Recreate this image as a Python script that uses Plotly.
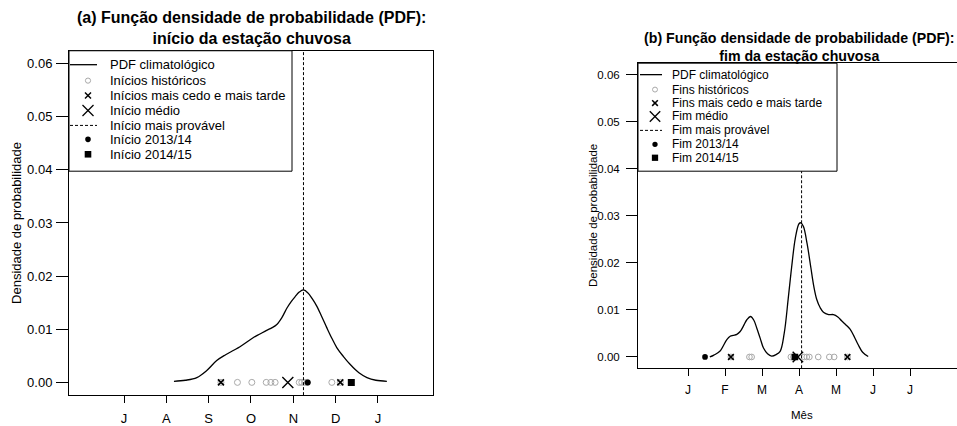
import plotly.graph_objects as go

# ---------------- data (month units: Jul=7 ... Jan=13 for onset; Jan=1 ... Jul=7 for end) -------------
onset_pdf_x = [8.18, 8.45, 8.72, 8.95, 9.19, 9.40, 9.58, 9.74, 10.05, 10.21, 10.37, 10.50, 10.61,
               10.73, 10.85, 10.95, 11.04, 11.14, 11.24, 11.35, 11.45, 11.55, 11.67, 11.79, 11.91,
               12.03, 12.18, 12.34, 12.55, 12.74, 12.95, 13.21]
onset_pdf_y = [0.0002, 0.0004, 0.0009, 0.0022, 0.0041, 0.0052, 0.0060, 0.0067, 0.0084, 0.0091, 0.0098,
               0.0103, 0.0109, 0.0122, 0.0140, 0.0152, 0.0161, 0.0170, 0.0174, 0.0168, 0.0157, 0.0144,
               0.0124, 0.0103, 0.0083, 0.0065, 0.0049, 0.0034, 0.0018, 0.0009, 0.0004, 0.0002]
onset_hist = [9.29, 9.68, 10.02, 10.36, 10.47, 10.57, 11.14, 11.20, 11.27, 11.33, 11.91, 12.11]
onset_extremes = [9.29, 12.11]
onset_mean = 10.87
onset_mode = 11.24
onset_1314 = 11.34
onset_1415 = 12.37

end_pdf_x = [1.59, 1.70, 1.86, 2.05, 2.14, 2.22, 2.32, 2.41, 2.50, 2.59, 2.69, 2.78, 2.86, 2.95, 3.04,
             3.15, 3.26, 3.38, 3.49, 3.60, 3.71, 3.80, 3.90, 4.00, 4.05, 4.12, 4.22, 4.32, 4.40, 4.48,
             4.57, 4.66, 4.80, 4.93, 5.05, 5.15, 5.27, 5.38, 5.50, 5.60, 5.72, 5.87]
end_pdf_y = [0.0000, 0.0004, 0.0012, 0.0037, 0.0044, 0.0046, 0.0048, 0.0054, 0.0066, 0.0079, 0.0086,
             0.0078, 0.0061, 0.0040, 0.0019, 0.0007, 0.0002, 0.0005, 0.0012, 0.0050, 0.0125, 0.0190,
             0.0252, 0.0283, 0.0285, 0.0277, 0.0240, 0.0190, 0.0150, 0.0122, 0.0105, 0.0095, 0.0090,
             0.0090, 0.0085, 0.0077, 0.0068, 0.0059, 0.0042, 0.0026, 0.0010, 0.0001]
end_hist = [2.16, 2.66, 2.72, 3.78, 3.85, 4.14, 4.21, 4.28, 4.52, 4.82, 4.95, 5.31]
end_extremes = [2.16, 5.31]
end_mean = 3.97
end_mode = 4.07
end_1314 = 1.46
end_1415 = 3.89

onset_ticks = [7, 8, 9, 10, 11, 12, 13]
onset_ticktext = ["J", "A", "S", "O", "N", "D", "J"]
end_ticks = [1, 2, 3, 4, 5, 6, 7]
end_ticktext = ["J", "F", "M", "A", "M", "J", "J"]
y_ticks = [0.00, 0.01, 0.02, 0.03, 0.04, 0.05, 0.06]
y_ticktext = ["0.00", "0.01", "0.02", "0.03", "0.04", "0.05", "0.06"]

legend_a = ["PDF climatológico", "Inícios históricos", "Inícios mais cedo e mais tarde", "Início médio",
            "Início mais provável", "Início 2013/14", "Início 2014/15"]
legend_b = ["PDF climatológico", "Fins históricos", "Fins mais cedo e mais tarde", "Fim médio",
            "Fim mais provável", "Fim 2013/14", "Fim 2014/15"]

# ---------------- layout helpers -------------
W, H = 957, 426
FONT = "Liberation Sans, Arial, Helvetica, sans-serif"
GREY = "#a9a9a9"
Y_RANGE = [-0.0024, 0.0624]


def px(x):
    return x / W


def py(y):
    return 1 - y / H


fig = go.Figure()


def add_panel(xa, ya, pdf_x, pdf_y, hist, extremes, mean, mode, v1314, v1415, msc):
    fig.add_trace(go.Scatter(x=pdf_x, y=pdf_y, mode="lines", line=dict(color="black", width=1.3, shape="spline"),
                             xaxis=xa, yaxis=ya, showlegend=False, hoverinfo="skip"))
    fig.add_trace(go.Scatter(x=hist, y=[0] * len(hist), mode="markers",
                             marker=dict(symbol="circle-open", size=6 * msc, color=GREY, line=dict(width=1, color=GREY)),
                             xaxis=xa, yaxis=ya, showlegend=False))
    fig.add_trace(go.Scatter(x=extremes, y=[0] * len(extremes), mode="markers",
                             marker=dict(symbol="x-thin-open", size=6 * msc, color="black", line=dict(width=1.6, color="black")),
                             xaxis=xa, yaxis=ya, showlegend=False))
    fig.add_trace(go.Scatter(x=[mean], y=[0], mode="markers",
                             marker=dict(symbol="x-thin-open", size=11 * msc, color="black", line=dict(width=1.4, color="black")),
                             xaxis=xa, yaxis=ya, showlegend=False))
    fig.add_trace(go.Scatter(x=[mode, mode], y=Y_RANGE, mode="lines",
                             line=dict(color="black", width=1, dash="3px,2px"),
                             xaxis=xa, yaxis=ya, showlegend=False, hoverinfo="skip"))
    fig.add_trace(go.Scatter(x=[v1314], y=[0], mode="markers",
                             marker=dict(symbol="circle", size=6 * msc, color="black"),
                             xaxis=xa, yaxis=ya, showlegend=False))
    fig.add_trace(go.Scatter(x=[v1415], y=[0], mode="markers",
                             marker=dict(symbol="square", size=7 * msc, color="black"),
                             xaxis=xa, yaxis=ya, showlegend=False))


add_panel("x", "y", onset_pdf_x, onset_pdf_y, onset_hist, onset_extremes, onset_mean, onset_mode,
          onset_1314, onset_1415, 1.0)
add_panel("x2", "y2", end_pdf_x, end_pdf_y, end_hist, end_extremes, end_mean, end_mode,
          end_1314, end_1415, 0.95)

shapes = []
annotations = []


def add_legend(left, top, right, bottom, rows, sym_x, line_x0, line_x1, text_x, labels, fsize, s):
    shapes.append(dict(type="rect", xref="paper", yref="paper", x0=px(left), x1=px(right), y0=py(bottom), y1=py(top),
                       line=dict(color="black", width=1), fillcolor="white", layer="above"))
    for i, (lab, ry) in enumerate(zip(labels, rows)):
        xa, ya = px(sym_x), py(ry)
        if i == 0 or i == 4:
            shapes.append(dict(type="line", xref="paper", yref="paper", x0=px(line_x0), x1=px(line_x1), y0=ya, y1=ya,
                               line=dict(color="black", width=1.3 if i == 0 else 1, dash="solid" if i == 0 else "3px,2px"),
                               layer="above"))
        elif i == 1:
            r = 2.6 * s
            shapes.append(dict(type="circle", xref="paper", yref="paper", xsizemode="pixel", ysizemode="pixel",
                               xanchor=xa, yanchor=ya, x0=-r, x1=r, y0=-r, y1=r,
                               line=dict(color=GREY, width=1), layer="above"))
        elif i in (2, 3):
            r = (3.0 if i == 2 else 5.5) * s
            for sgn in (1, -1):
                shapes.append(dict(type="line", xref="paper", yref="paper", xsizemode="pixel", ysizemode="pixel",
                                   xanchor=xa, yanchor=ya, x0=-r, x1=r, y0=-r * sgn, y1=r * sgn,
                                   line=dict(color="black", width=1.5 if i == 2 else 1.3), layer="above"))
        elif i == 5:
            r = 2.8 * s
            shapes.append(dict(type="circle", xref="paper", yref="paper", xsizemode="pixel", ysizemode="pixel",
                               xanchor=xa, yanchor=ya, x0=-r, x1=r, y0=-r, y1=r,
                               line=dict(color="black", width=0), fillcolor="black", layer="above"))
        elif i == 6:
            r = 3.3 * s
            shapes.append(dict(type="rect", xref="paper", yref="paper", xsizemode="pixel", ysizemode="pixel",
                               xanchor=xa, yanchor=ya, x0=-r, x1=r, y0=-r, y1=r,
                               line=dict(color="black", width=0), fillcolor="black", layer="above"))
        annotations.append(dict(text=lab, xref="paper", yref="paper", x=px(text_x), y=ya, xanchor="left",
                                yanchor="middle", showarrow=False, font=dict(size=fsize, color="black", family=FONT)))


add_legend(69, 51, 292, 172, [65, 81, 96, 111, 126, 140, 155], 88, 70, 97, 108, legend_a, 13, 1.0)
add_legend(638, 63.5, 837, 172, [75, 90, 103.5, 117, 131, 145, 158.5], 655, 640, 662, 670, legend_b, 12, 0.95)

# titles and axis labels
annotations.append(dict(text="<b>(a) Função densidade de probabilidade (PDF):<br>início da estação chuvosa</b>",
                        xref="paper", yref="paper", x=px(251), y=py(28.5), xanchor="center", yanchor="middle",
                        showarrow=False, font=dict(size=16, color="black", family=FONT)))
annotations.append(dict(text="<b>(b) Função densidade de probabilidade (PDF):<br>fim da estação chuvosa</b>",
                        xref="paper", yref="paper", x=px(799), y=py(47.5), xanchor="center", yanchor="middle",
                        showarrow=False, font=dict(size=14.2, color="black", family=FONT)))
annotations.append(dict(text="Densidade de probabilidade", xref="paper", yref="paper", x=px(17), y=py(224),
                        xanchor="center", yanchor="middle", textangle=-90, showarrow=False,
                        font=dict(size=13, color="black", family=FONT)))
annotations.append(dict(text="Densidade de probabilidade", xref="paper", yref="paper", x=px(593), y=py(217),
                        xanchor="center", yanchor="middle", textangle=-90, showarrow=False,
                        font=dict(size=11.5, color="black", family=FONT)))
annotations.append(dict(text="Mês", xref="paper", yref="paper", x=px(802), y=py(417),
                        xanchor="center", yanchor="middle", showarrow=False,
                        font=dict(size=11.5, color="black", family=FONT)))

ax_common = dict(showgrid=False, zeroline=False, showline=True, linecolor="black", linewidth=1,
                 ticks="outside", tickcolor="black", tickwidth=1)

xa_range = [7 + (69 - 124) / 42.33, 7 + (433 - 124) / 42.33]
xb_range = [1 + (638 - 688) / 37.0, 1 + (957 - 688) / 37.0]

fig.update_layout(
    width=W, height=H, margin=dict(l=0, r=0, t=0, b=0),
    paper_bgcolor="white", plot_bgcolor="white",
    font=dict(family=FONT, color="black"),
    showlegend=False,
    xaxis=dict(domain=[px(69), px(433)], range=xa_range, tickvals=onset_ticks, ticktext=onset_ticktext,
               ticklen=7, mirror=True, anchor="y", tickfont=dict(size=13), ticklabelstandoff=4, **ax_common),
    yaxis=dict(domain=[py(397), py(51)], range=Y_RANGE, tickvals=y_ticks, ticktext=y_ticktext,
               ticklen=12, mirror=True, anchor="x", tickfont=dict(size=13), ticklabelstandoff=1, **ax_common),
    xaxis2=dict(domain=[px(638), 1.0], range=xb_range, tickvals=end_ticks, ticktext=end_ticktext,
                ticklen=7, mirror=True, anchor="y2", tickfont=dict(size=12), ticklabelstandoff=3, **ax_common),
    yaxis2=dict(domain=[py(370), py(63.5)], range=Y_RANGE, tickvals=y_ticks, ticktext=y_ticktext,
                ticklen=11, mirror=False, anchor="x2", tickfont=dict(size=11.5), ticklabelstandoff=4, **ax_common),
    shapes=shapes, annotations=annotations,
)

fig.write_html("out.html", config={"displayModeBar": False, "staticPlot": True},
               post_script="document.body.style.margin='0px';document.body.style.overflow='hidden';")
